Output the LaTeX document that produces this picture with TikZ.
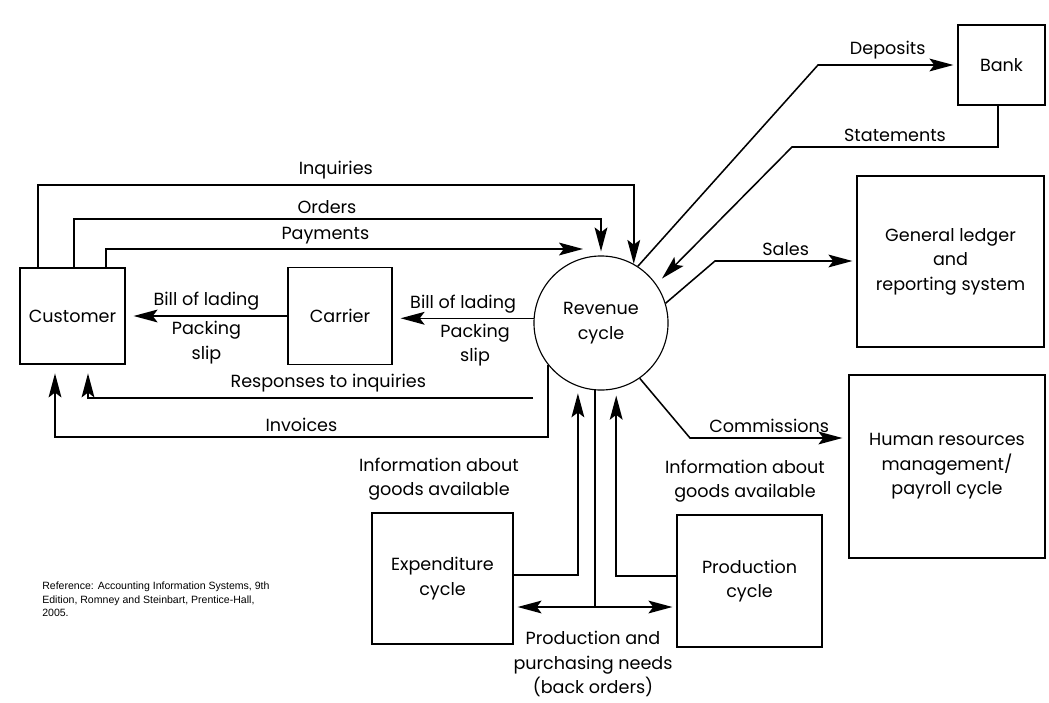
\documentclass[tikz,border=0pt]{standalone}
\usepackage{fontspec}
\setmainfont{Poppins}
\newfontfamily\reffont{Liberation Sans}
\usetikzlibrary{arrows.meta}
\begin{document}
\begin{tikzpicture}[x=0.025cm,y=-0.025cm,font=\fontsize{12.5}{17.5}\selectfont,
	box/.style={draw,line width=0.8pt,align=center},
	flow/.style={line width=1.1pt},
	arr/.style={flow,-{Stealth[length=6mm,width=3.2mm,inset=1.2mm]}},
	twoway/.style={flow,{Stealth[length=6mm,width=3.2mm,inset=1.2mm]}-{Stealth[length=6mm,width=3.2mm,inset=1.2mm]}}]

	\useasboundingbox (0,0) rectangle (1049,702);

	\node[circle,draw,line width=0.8pt,minimum size=3.35cm,align=center] (rev) at (601,323) {Revenue\\cycle};
	\node[box,minimum width=2.625cm,minimum height=2.4cm] (cust) at (72.5,316) {Customer};
	\node[box,minimum width=2.6cm,minimum height=2.425cm] (car) at (340,316) {Carrier};
	\node[box,minimum width=2.175cm,minimum height=2cm] (bank) at (1001.5,65) {Bank};
	\node[box,minimum width=4.675cm,minimum height=4.275cm] (gl) at (950.5,261.5) {General ledger\\and\\reporting system};
	\node[box,minimum width=4.9cm,minimum height=4.575cm] (hr) at (947,466.5) {Human resources\\management/\\payroll cycle};
	\node[box,minimum width=3.525cm,minimum height=3.275cm] (exp) at (442.5,578.5) {Expenditure\\cycle};
	\node[box,minimum width=3.625cm,minimum height=3.3cm] (prod) at (749.5,581) {Production\\cycle};

	% customer side
	\draw[arr] (cust.north -| 38,0) |- (rev.61 |- 0,185) node[pos=0.75,above] {Inquiries} -- (rev.61);
	\draw[arr,shorten >=1mm] (cust.north -| 74,0) |- (rev.north |- 0,219) node[pos=0.74,above] {Orders} -- (rev.north);
	\coordinate (paytip) at (583,249);
	\draw[arr] (cust.north -| 106,0) |- (paytip) node[pos=0.73,above] {Payments};
	\draw[arr,shorten >=2mm] (rev.176) -- (rev.176 -| car.east) node[midway,above] {Bill of lading} node[midway,below,xshift=0.3cm,align=center] {Packing\\slip};
	\draw[arr,shorten >=2mm] (car.west) -- (cust.east) node[midway,above] {Bill of lading} node[midway,below,align=center] {Packing\\slip};
	\coordinate (resptail) at (533,398);
	\draw[arr,shorten >=2.2mm] (resptail) -| (cust.south -| 88,0) node[pos=0.23,above] {Responses to inquiries};
	\draw[arr,shorten >=2.2mm] (rev.218) -- (rev.218 |- 0,437) -| (cust.south -| 55,0) node[pos=0.25,above] {Invoices};

	% other cycles
	\draw[arr,shorten >=1.7mm] (exp.east |- 0,575) -| (rev.250);
	\draw[arr,shorten >=1.7mm] (prod.west |- 0,576) -| (rev.283);
	\draw[flow] (rev.265) -- (rev.265 |- 0,607) coordinate (split);
	\draw[twoway,shorten <=1mm,shorten >=1mm] (exp.east |- split) -- (prod.west |- split);
	\node[align=center] (infoexp) at (439,479) {Information about\\goods available};
	\node[align=center] (infoprod) at (745,481) {Information about\\goods available};
	\node[align=center] (needs) at (593,664) {Production and\\purchasing needs\\(back orders)};

	\draw[arr,shorten >=1.5mm] (rev.305) -- (690,438) -- (hr.west |- 0,438) node[midway,above] {Commissions};
	\draw[arr,shorten >=1mm] (rev.17) -- (715,261) -- (gl.west |- 0,261) node[midway,above] {Sales};
	\draw[arr,shorten >=2mm] (bank.south -| 998,0) |- (792,147) node[pos=0.75,above] {Statements} -- (rev.35);
	\draw[arr,shorten >=1mm] (rev.57) -- (818,65) -- (bank.west) node[midway,above] {Deposits};

	\node[anchor=north west,align=left,inner sep=0,font=\reffont\fontsize{7.5}{9.5}\selectfont] (ref) at (42,582)
		{Reference: Accounting Information Systems, 9th\\Edition, Romney and Steinbart, Prentice-Hall,\\2005.};

\end{tikzpicture}
\end{document}
